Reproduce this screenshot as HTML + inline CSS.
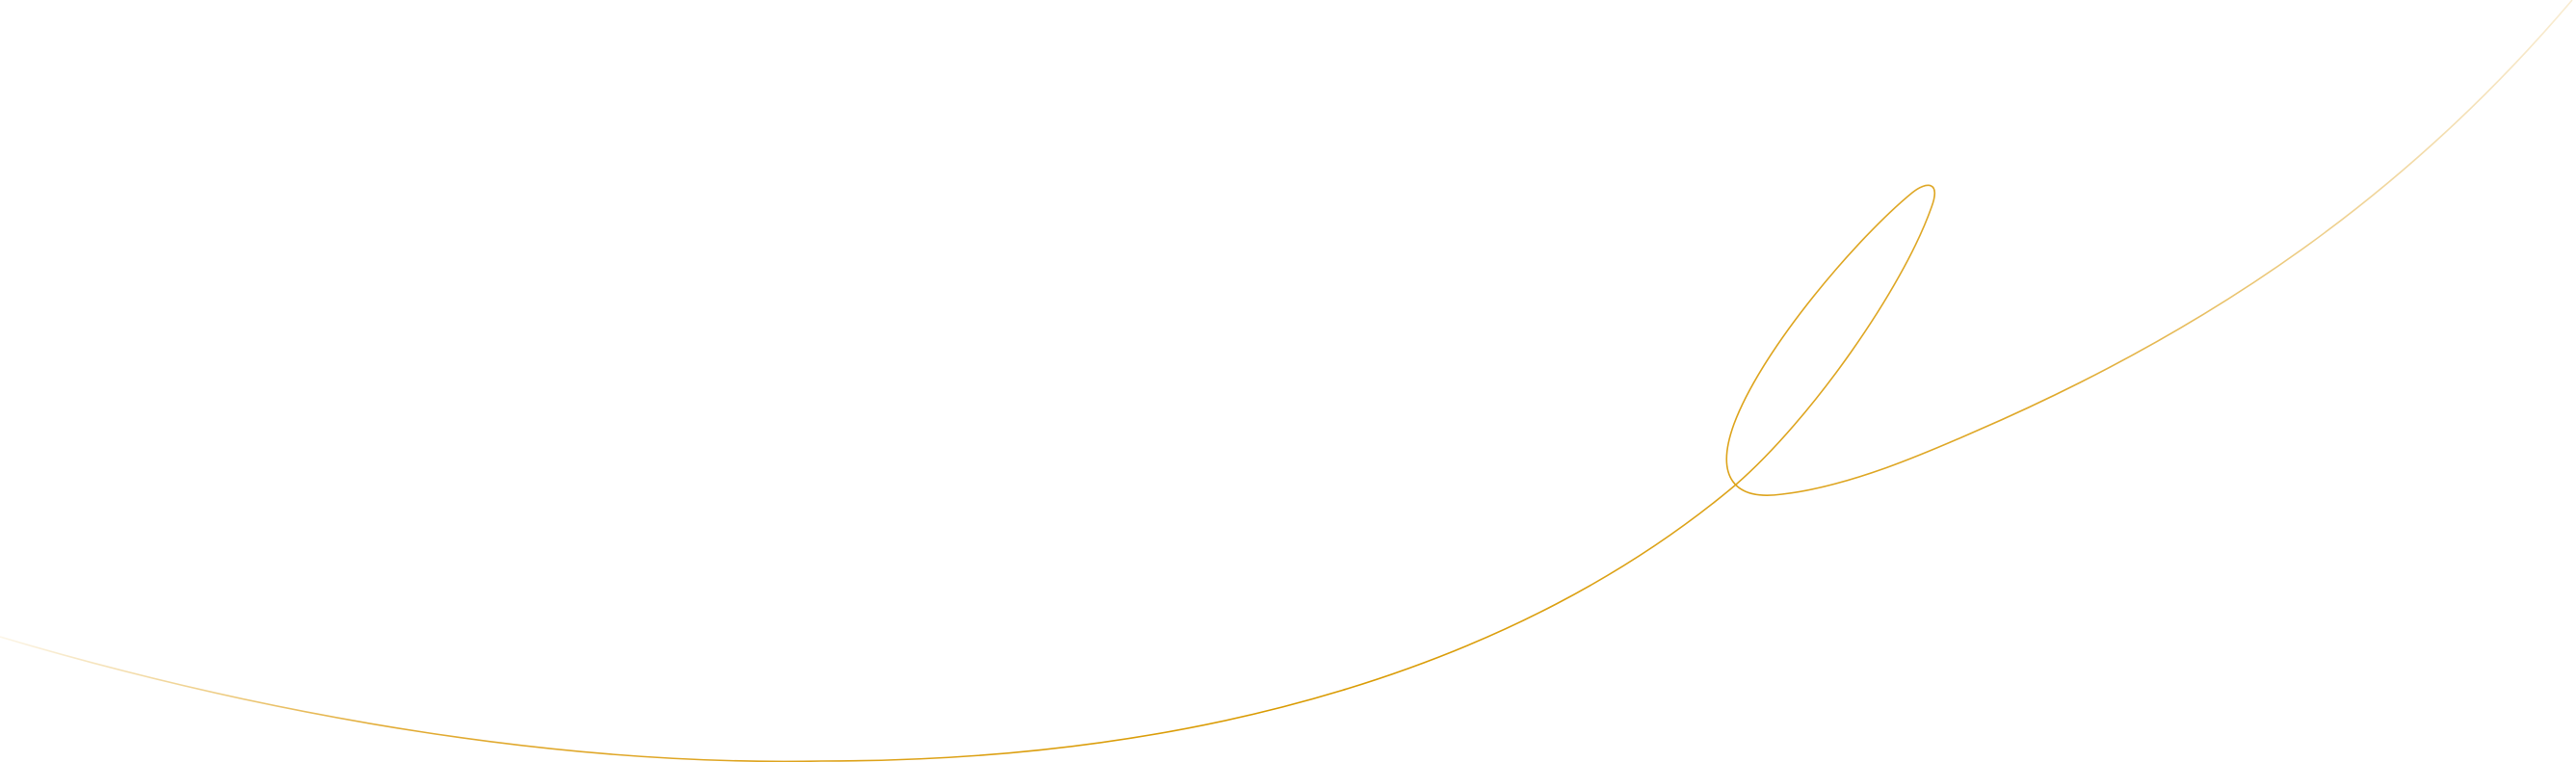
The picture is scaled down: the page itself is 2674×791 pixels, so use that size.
<!DOCTYPE html>
<html><head><meta charset="utf-8"><style>
html,body{margin:0;padding:0;background:#fff;}
svg{display:block;}
</style></head><body>
<svg width="2674" height="791" viewBox="0 0 2674 791" xmlns="http://www.w3.org/2000/svg">
<defs>
<linearGradient id="g" x1="0" y1="0" x2="2674" y2="0" gradientUnits="userSpaceOnUse">
<stop offset="0" stop-color="#e0a21a" stop-opacity="0.1"/>
<stop offset="0.15" stop-color="#dc9c10" stop-opacity="0.85"/>
<stop offset="0.5" stop-color="#d99a00" stop-opacity="1"/>
<stop offset="0.8" stop-color="#dca015" stop-opacity="0.9"/>
<stop offset="1" stop-color="#e6b550" stop-opacity="0.25"/>
</linearGradient>
</defs>
<path fill="none" stroke="url(#g)" stroke-width="1.6"
d="M0,661 C 300,750 600,795 853,790 C 1250,790 1580,690 1802,503 C 1880,435 1975,300 2005,215 C 2015,188 2000,188 1985,200 C 1930,245 1830,360 1800,440 C 1780,495 1800,520 1850,513 C 1920,505 2000,470 2050,448 C 2300,340 2500,200 2670,0"/>
</svg>
</body></html>
